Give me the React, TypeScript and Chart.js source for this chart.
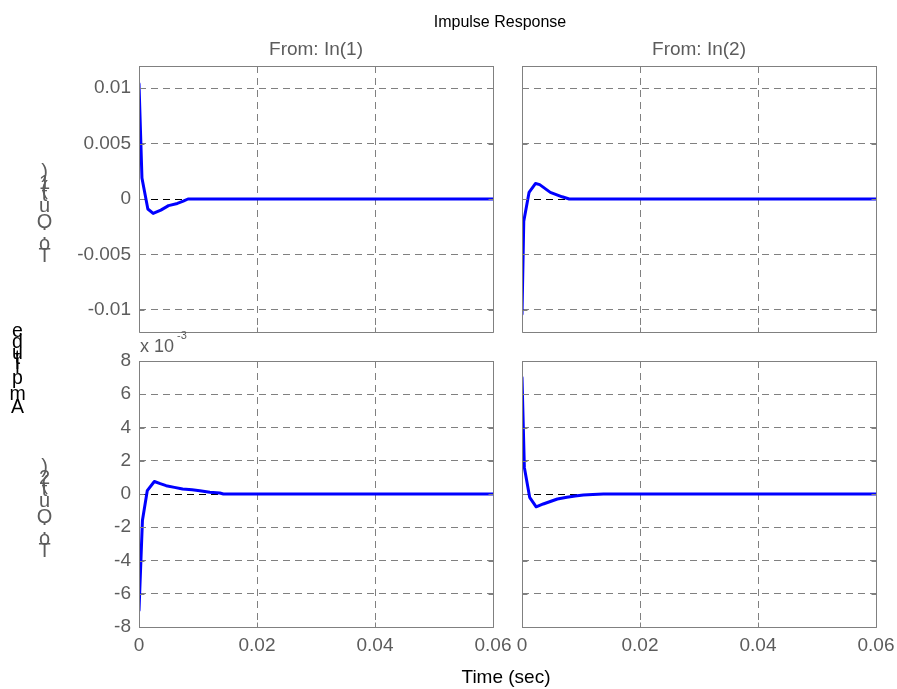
import React, { useEffect, useRef } from "react";
import { Chart, registerables } from "chart.js";
Chart.register(...registerables);

// ---------- data ----------
const TITLE = "Impulse Response";
const INPUT_LABELS = ["From: In(1)", "From: In(2)"];
const OUTPUT_LABELS = ["To: Out(1)", "To: Out(2)"];
const X_LABEL = "Time (sec)";
const Y_LABEL = "Amplitude";
const EXP_BASE = "x 10";
const EXP_POWER = "-3";

const TIME_TICKS = [0, 0.02, 0.04, 0.06];
const OUT1_TICKS = [-0.01, -0.005, 0, 0.005, 0.01];
const OUT2_TICKS = [-0.008, -0.006, -0.004, -0.002, 0, 0.002, 0.004, 0.006, 0.008];

// Out(1) <- In(1)
const T11 = [0, 0.0005, 0.0015, 0.0024, 0.0037, 0.005, 0.0065, 0.0075, 0.0083, 0.06];
const Y11 = [0.0104, 0.0019, -0.0009, -0.0013, -0.001, -0.0006, -0.0004, -0.0002, 0, 0];
// Out(1) <- In(2)
const T12 = [0, 0.0003, 0.0012, 0.0023, 0.003, 0.0048, 0.0068, 0.008, 0.06];
const Y12 = [-0.0104, -0.002, 0.0006, 0.0014, 0.0013, 0.0006, 0.0002, 0, 0];
// Out(2) <- In(1)
const T21 = [0, 0.00058, 0.0014, 0.0026, 0.0036, 0.0046, 0.006, 0.0074, 0.009, 0.0103, 0.012, 0.0137, 0.0143, 0.06];
const Y21 = [-0.007, -0.0016, 0.0002, 0.00075, 0.00062, 0.0005, 0.0004, 0.0003, 0.00025, 0.0002, 0.0001, 0.00006, 0, 0];
// Out(2) <- In(2)
const T22 = [0, 0.0004, 0.0013, 0.0024, 0.0036, 0.0048, 0.006, 0.0076, 0.009, 0.0104, 0.012, 0.0138, 0.06];
const Y22 = [0.007, 0.0016, -0.0002, -0.00077, -0.0006, -0.00045, -0.0003, -0.0002, -0.00012, -0.00006, -0.00003, 0, 0];

// ---------- layout ----------
const W = 897;
const H = 689;
const CW = 1000; // canvas larger than the view so edge labels never squeeze the plot
const CH = 760;
const COLS = [
  { left: 139, right: 493 },
  { left: 522, right: 876 },
];
const ROWS = [
  { top: 66, bottom: 332 },
  { top: 361, bottom: 627 },
];
const YW = 100;
const XH = 40;
const FONT = "'Liberation Sans', Arial, Helvetica, sans-serif";
const GRAY_TEXT = "#5c5c5c";
const AXIS_GRAY = "#808080";

function stacked(ctx: CanvasRenderingContext2D, text: string, cx: number, baseY: number, size: number, color: string) {
  ctx.font = `${size}px ${FONT}`;
  ctx.fillStyle = color;
  ctx.textAlign = "center";
  ctx.textBaseline = "alphabetic";
  let y = baseY;
  for (const ch of text) {
    const w = ctx.measureText(ch).width;
    if (ch.trim()) ctx.fillText(ch, cx, y);
    y -= w;
  }
}

const framePlugin = {
  id: "frame",
  afterDraw(chart: any) {
    const ctx = chart.ctx as CanvasRenderingContext2D;
    const { left, top, right, bottom } = chart.chartArea;
    const l = Math.round(left) + 0.5;
    const t = Math.round(top) + 0.5;
    const r = Math.round(right) + 0.5;
    const b = Math.round(bottom) + 0.5;
    ctx.save();
    ctx.setLineDash([]);
    ctx.strokeStyle = AXIS_GRAY;
    ctx.lineWidth = 1;
    ctx.beginPath();
    ctx.rect(l, t, r - l, b - t);
    const xs = chart.scales.x;
    const ys = chart.scales.y;
    const TL = 5;
    xs.ticks.forEach((tk: any) => {
      const px = Math.round(xs.getPixelForValue(tk.value)) + 0.5;
      ctx.moveTo(px, b);
      ctx.lineTo(px, b - TL);
      ctx.moveTo(px, t);
      ctx.lineTo(px, t + TL);
    });
    ys.ticks.forEach((tk: any) => {
      const py = Math.round(ys.getPixelForValue(tk.value)) + 0.5;
      ctx.moveTo(l, py);
      ctx.lineTo(l + TL, py);
      ctx.moveTo(r, py);
      ctx.lineTo(r - TL, py);
    });
    ctx.stroke();
    ctx.restore();
  },
};

const textPlugin = {
  id: "texts",
  afterDraw(chart: any) {
    const ctx = chart.ctx as CanvasRenderingContext2D;
    ctx.save();
    ctx.textBaseline = "alphabetic";
    ctx.textAlign = "center";
    ctx.fillStyle = "#000";
    ctx.font = `16px ${FONT}`;
    ctx.fillText(TITLE, 500, 27);
    ctx.fillStyle = GRAY_TEXT;
    ctx.font = `19px ${FONT}`;
    ctx.fillText(INPUT_LABELS[0], (COLS[0].left + COLS[0].right) / 2, 55);
    ctx.fillText(INPUT_LABELS[1], (COLS[1].left + COLS[1].right) / 2, 55);
    ctx.fillStyle = "#000";
    ctx.fillText(X_LABEL, 506, 683);
    ctx.textAlign = "left";
    ctx.fillStyle = GRAY_TEXT;
    ctx.font = `18px ${FONT}`;
    ctx.fillText(EXP_BASE, 140, 352);
    ctx.font = `11px ${FONT}`;
    ctx.fillText(EXP_POWER, 177, 339);
    stacked(ctx, OUTPUT_LABELS[0], 44.5, 262, 20, GRAY_TEXT);
    stacked(ctx, OUTPUT_LABELS[1], 44.5, 557, 20, GRAY_TEXT);
    stacked(ctx, Y_LABEL, 17.5, 413, 19.5, "#000");
    ctx.restore();
  },
};

type Panel = {
  t: number[];
  y: number[];
  col: number;
  row: number;
  yMax: number;
  yTicks: number[];
  yFmt: (v: number) => string;
  showY: boolean;
  showX: boolean;
  texts: boolean;
};

function makeChart(canvas: HTMLCanvasElement, p: Panel) {
  const c = COLS[p.col];
  const r = ROWS[p.row];
  const gridColor = (ctx: any) => (ctx.tick && ctx.tick.value === 0 ? "#000" : AXIS_GRAY);
  return new Chart(canvas, {
    type: "line",
    data: {
      datasets: [
        {
          data: p.t.map((t, i) => ({ x: t, y: p.y[i] })),
          borderColor: "#0000ff",
          borderWidth: 3,
          pointRadius: 0,
          fill: false,
          tension: 0,
          borderJoinStyle: "round",
          borderCapStyle: "round",
        },
      ],
    },
    options: {
      responsive: false,
      animation: false,
      events: [],
      layout: {
        autoPadding: false,
        padding: {
          left: c.left - YW,
          right: CW - c.right,
          top: r.top,
          bottom: CH - r.bottom - XH,
        },
      },
      plugins: { legend: { display: false }, tooltip: { enabled: false }, title: { display: false } },
      scales: {
        x: {
          type: "linear",
          min: 0,
          max: 0.06,
          afterBuildTicks: (a: any) => {
            a.ticks = TIME_TICKS.map((v) => ({ value: v }));
          },
          afterFit: (a: any) => {
            a.height = XH;
          },
          grid: { color: AXIS_GRAY, lineWidth: 1, drawTicks: false },
          border: { display: false, dash: [7, 5] },
          ticks: {
            display: p.showX,
            autoSkip: false,
            maxRotation: 0,
            padding: 7,
            color: GRAY_TEXT,
            font: { family: FONT, size: 19 },
            callback: (v: any) => String(v),
          },
        },
        y: {
          type: "linear",
          min: -p.yMax,
          max: p.yMax,
          afterBuildTicks: (a: any) => {
            a.ticks = p.yTicks.map((v) => ({ value: v }));
          },
          afterFit: (a: any) => {
            a.width = YW;
          },
          grid: { color: gridColor, lineWidth: 1, drawTicks: false },
          border: { display: false, dash: [7, 5] },
          ticks: {
            display: p.showY,
            autoSkip: false,
            padding: 8,
            color: GRAY_TEXT,
            font: { family: FONT, size: 19 },
            callback: (v: any) => p.yFmt(Number(v)),
          },
        },
      },
    },
    plugins: p.texts ? [framePlugin, textPlugin] : [framePlugin],
  } as any);
}

const fmt1 = (v: number) => String(v);
const fmt2 = (v: number) => String(Math.round(v * 1000));

const PANELS: Panel[] = [
  { t: T11, y: Y11, col: 0, row: 0, yMax: 0.012, yTicks: OUT1_TICKS, yFmt: fmt1, showY: true, showX: false, texts: true },
  { t: T12, y: Y12, col: 1, row: 0, yMax: 0.012, yTicks: OUT1_TICKS, yFmt: fmt1, showY: false, showX: false, texts: false },
  { t: T21, y: Y21, col: 0, row: 1, yMax: 0.008, yTicks: OUT2_TICKS, yFmt: fmt2, showY: true, showX: true, texts: false },
  { t: T22, y: Y22, col: 1, row: 1, yMax: 0.008, yTicks: OUT2_TICKS, yFmt: fmt2, showY: false, showX: true, texts: false },
];

export default function App() {
  const refs = [useRef<HTMLCanvasElement>(null), useRef<HTMLCanvasElement>(null), useRef<HTMLCanvasElement>(null), useRef<HTMLCanvasElement>(null)];
  useEffect(() => {
    document.body.style.margin = "0";
    document.body.style.overflow = "hidden";
    document.body.style.background = "#fff";
    const charts = PANELS.map((p, i) => makeChart(refs[i].current as HTMLCanvasElement, p));
    return () => charts.forEach((c) => c.destroy());
  }, []);
  return (
    <div style={{ position: "relative", width: W, height: H, overflow: "hidden", background: "#fff" }}>
      {refs.map((r, i) => (
        <canvas
          key={i}
          ref={r}
          width={CW}
          height={CH}
          style={{ position: "absolute", left: 0, top: 0, width: CW, height: CH }}
        />
      ))}
    </div>
  );
}
